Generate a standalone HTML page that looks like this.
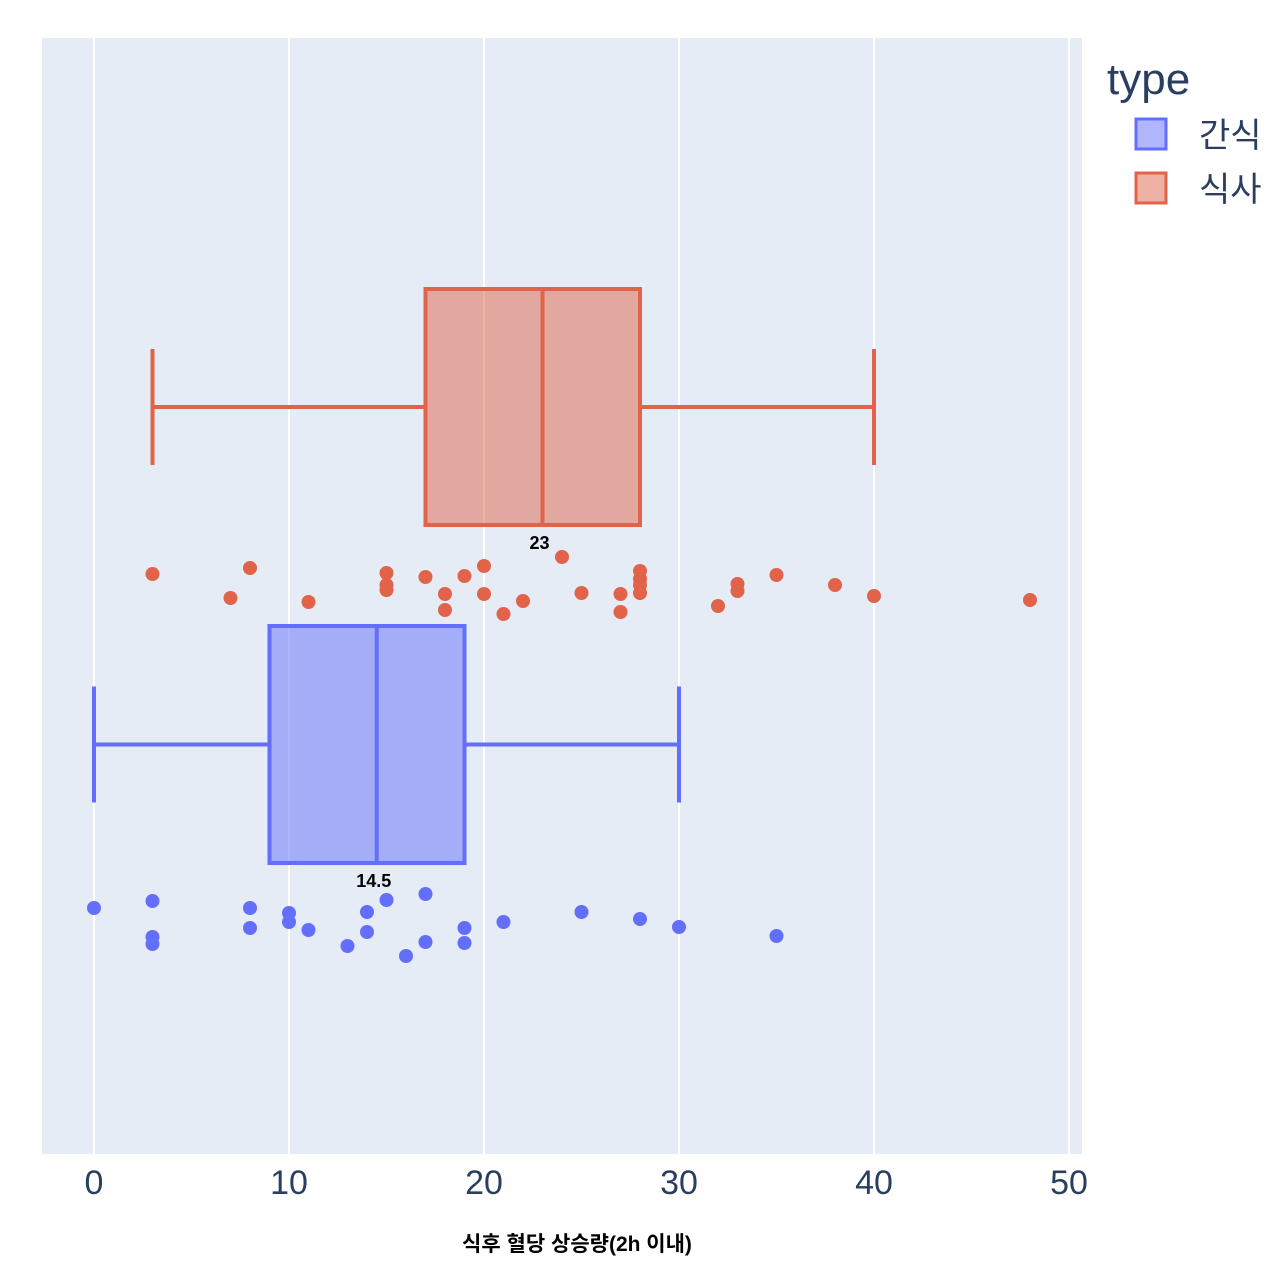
<!DOCTYPE html>
<html><head><meta charset="utf-8"><style>
body{margin:0;background:#fff;}
svg{display:block;font-family:"Liberation Sans","Noto Sans CJK KR",sans-serif;}
</style></head><body>
<svg id="c" width="1280" height="1276"></svg>
<script>
const xTicks=[0,10,20,30,40,50];
const mealPts=[[3,573],[8,567],[7,597],[15,572],[15,584],[15,589],[11,601],[17,576],[19,575],[18,593],[18,609],[20,565],[20,593],[22,600],[21,613],[24,556],[25,592],[27,593],[27,611],[28,570],[28,578],[28,584],[28,592],[32,605],[33,583],[33,590],[35,574],[38,584],[40,595],[48,599]];
const snackPts=[[0,907],[3,900],[3,936],[3,943],[8,907],[8,927],[10,912],[10,921],[11,929],[13,945],[14,911],[14,931],[15,899],[16,955],[17,893],[17,941],[19,927],[19,942],[21,921],[25,911],[28,918],[30,926],[35,935]];
const mealStats=[3,17,23,28,40];
const snackStats=[0,9,14.5,19,30];
const NS="http://www.w3.org/2000/svg";
const svg=document.getElementById('c');
const X=v=>94+v*19.5;
function mk(t,a,p){const e=document.createElementNS(NS,t);for(const k in a)e.setAttribute(k,a[k]);(p||svg).appendChild(e);return e;}
let bg=mk('rect',{x:42,y:38,width:1040,height:1116,fill:'#e5ecf6'});


xTicks.forEach(t=>{
 let g=mk('line',{x1:X(t),x2:X(t),y1:38,y2:1154,stroke:'#fff','stroke-width':2});
 
 
 let l=mk('text',{x:X(t),y:1194,'text-anchor':'middle','font-size':34,fill:'#2a3f5f'});
 l.textContent=t;
 
 
});
function box(s,top,bot,stroke,fill,name,pts,label){
 const cy=(top+bot)/2, ch=58;
 let g=mk('g',{});
 
 
 mk('line',{x1:X(s[0]),x2:X(s[1]),y1:cy,y2:cy,stroke:stroke,'stroke-width':4},g);
 mk('line',{x1:X(s[3]),x2:X(s[4]),y1:cy,y2:cy,stroke:stroke,'stroke-width':4},g);
 mk('line',{x1:X(s[0]),x2:X(s[0]),y1:cy-ch,y2:cy+ch,stroke:stroke,'stroke-width':4},g);
 mk('line',{x1:X(s[4]),x2:X(s[4]),y1:cy-ch,y2:cy+ch,stroke:stroke,'stroke-width':4},g);
 mk('rect',{x:X(s[1]),y:top,width:X(s[3])-X(s[1]),height:bot-top,fill:fill,stroke:stroke,'stroke-width':4},g);
 mk('line',{x1:X(s[2]),x2:X(s[2]),y1:top,y2:bot,stroke:stroke,'stroke-width':4},g);
 let t=mk('text',{x:X(s[2])-3,y:bot+24,'text-anchor':'middle','font-size':18,'font-weight':'bold',fill:'#000'},g);
 t.textContent=label;
 pts.forEach(p=>{
  let c=mk('circle',{cx:X(p[0]),cy:p[1]+1,r:7,fill:stroke});
  
  
 });
}
box(mealStats,289,525,'#e0634a','rgba(224,99,74,0.5)','meal-box',mealPts,'23');
box(snackStats,626,863,'#636efa','rgba(99,110,250,0.5)','snack-box',snackPts,'14.5');
let xt=mk('text',{x:577,y:1251,'text-anchor':'middle','font-size':21,'font-weight':'bold',fill:'#000'});
xt.textContent='식후 혈당 상승량(2h 이내)';


let lt=mk('text',{x:1107,y:94,'font-size':44,fill:'#2a3f5f'});
lt.textContent='type';


[['간식','#636efa','rgba(99,110,250,0.5)',134],['식사','#e0634a','rgba(224,99,74,0.5)',188]].forEach(d=>{
 let g=mk('g',{});
 
 
 mk('rect',{x:1136,y:d[3]-15,width:30,height:30,fill:'#fff'},g);
 mk('rect',{x:1136,y:d[3]-15,width:30,height:30,fill:d[2],stroke:d[1],'stroke-width':3},g);
 let t=mk('text',{x:1199,y:d[3]+13,'font-size':34,fill:'#2a3f5f'},g);
 t.textContent=d[0];
});
</script>
</body></html>
